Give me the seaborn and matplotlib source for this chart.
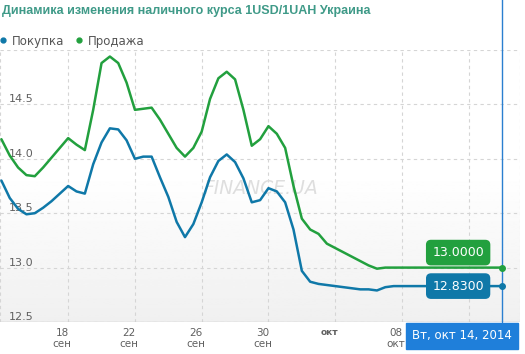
import numpy as np
import pandas as pd
import seaborn as sns
import matplotlib.pyplot as plt
import matplotlib.transforms as mtransforms
from matplotlib.lines import Line2D

# half-day readings, 14 Sep 2014 .. 14 Oct 2014
start_date = '2014-09-14'
end_date = '2014-10-14'

buy = [13.80, 13.64, 13.54, 13.49, 13.50, 13.55, 13.61, 13.68, 13.75, 13.70,
       13.68, 13.95, 14.15, 14.28, 14.27, 14.17, 14.00, 14.02, 14.02, 13.83,
       13.65, 13.42, 13.28, 13.40, 13.60, 13.83, 13.98, 14.04, 13.97, 13.82,
       13.60, 13.62, 13.73, 13.70, 13.60, 13.35, 12.97, 12.87, 12.85, 12.84,
       12.83, 12.82, 12.81, 12.80, 12.80, 12.79,
       12.82, 12.83, 12.83, 12.83, 12.83, 12.83, 12.83, 12.83, 12.83, 12.83,
       12.83, 12.83, 12.83, 12.83, 12.83]

sell = [14.18, 14.03, 13.92, 13.85, 13.84, 13.92, 14.01, 14.10, 14.19, 14.13,
        14.08, 14.45, 14.88, 14.94, 14.88, 14.70, 14.45, 14.46, 14.47, 14.36,
        14.23, 14.10, 14.02, 14.10, 14.25, 14.55, 14.74, 14.80, 14.73, 14.45,
        14.12, 14.18, 14.30, 14.23, 14.10, 13.75, 13.45, 13.35, 13.31, 13.22,
        13.18, 13.14, 13.10, 13.06, 13.02, 12.99,
        13.00, 13.00, 13.00, 13.00, 13.00, 13.00, 13.00, 13.00, 13.00, 13.00,
        13.00, 13.00, 13.00, 13.00, 13.00]

series_names = ['Покупка', 'Продажа']
tick_dates = ['2014-09-18', '2014-09-22', '2014-09-26', '2014-09-30',
              '2014-10-04', '2014-10-08', '2014-10-12']
# the label of 12 Oct is hidden under the date tooltip in the original
tick_labels = ['18\nсен', '22\nсен', '26\nсен', '30\nсен', 'окт', '08\nокт', '']
y_ticks = [12.5, 13.0, 13.5, 14.0, 14.5, 15.0]
y_labels = ['12.5', '13.0', '13.5', '14.0', '14.5', '']
last_labels = ['12.8300', '13.0000']
tooltip_text = 'Вт, окт 14, 2014'
title = 'Динамика изменения наличного курса 1USD/1UAH Украина'

BLUE = '#0f78a8'
GREEN = '#22a03e'
colors = [BLUE, GREEN]

dates = pd.date_range(start_date, end_date, freq='12h')
df = pd.DataFrame({
    'date': np.concatenate([dates, dates]),
    'value': buy + sell,
    'series': [series_names[0]] * len(buy) + [series_names[1]] * len(sell),
})

sns.set_style('white')
plt.rcParams['font.family'] = ['DejaVu Sans']

fig = plt.figure(figsize=(5.25, 3.54), dpi=100)
ax = fig.add_axes([0, 32 / 354, 520 / 525, 272 / 354])

# soft gray gradient towards the bottom of the plot area
grad = np.linspace(0, 1, 256)
grad = np.clip((grad - 0.45) / 0.55, 0, 1)[:, None]
ax.imshow(1 - 0.06 * grad, cmap='gray', vmin=0, vmax=1, aspect='auto',
          extent=[0, 1, 0, 1], transform=ax.transAxes, zorder=0)

sns.lineplot(data=df, x='date', y='value', hue='series', palette=colors,
             hue_order=series_names, linewidth=1.8, legend=False, ax=ax, zorder=3)

x0 = pd.Timestamp(start_date) - pd.Timedelta(hours=2)
x1 = pd.Timestamp(start_date) + pd.Timedelta(days=31.07)
ax.set_xlim(x0, x1)
ax.set_ylim(12.5, 15.0)
ax.set_xlabel('')
ax.set_ylabel('')

for s in ax.spines.values():
    s.set_visible(False)
ax.axhline(12.5, color='#c8c8c8', lw=1, zorder=2)

ax.set_yticks(y_ticks)
ax.set_yticklabels(y_labels)
ax.tick_params(axis='y', length=0, pad=-6, labelsize=8, labelcolor='#606060')
for lab in ax.get_yticklabels():
    lab.set_ha('left')
    lab.set_va('bottom')

ax.set_xticks(pd.to_datetime(tick_dates))
ax.set_xticklabels(tick_labels)
ax.tick_params(axis='x', length=3, color='#cccccc', labelsize=7.5,
               labelcolor='#606060', pad=1)
shift = mtransforms.ScaledTranslation(-6 / 100, 0, fig.dpi_scale_trans)
for lab in ax.get_xticklabels():
    lab.set_linespacing(1.15)
    lab.set_transform(lab.get_transform() + shift)
    if lab.get_text() == 'окт':
        lab.set_fontweight('bold')
        lab.set_fontsize(6.5)

ax.grid(True, color='#d5d5d5', linestyle=(0, (3, 3)), linewidth=0.8)
ax.axvline(x0, color='#d5d5d5', linestyle=(0, (3, 3)), linewidth=0.8)
ax.axvline(x1, color='#d5d5d5', linestyle=(0, (3, 3)), linewidth=0.8)

# watermark
ax.text(0.502, 0.49, 'FINANCE.UA', transform=ax.transAxes, ha='center', va='center',
        fontsize=13.5, style='italic', color='#dedede', zorder=1)

# cursor line on the last day
last = dates[-1]
ax.axvline(last, ymin=0, ymax=1.2, color='#2a7fd0', lw=1, clip_on=False, zorder=4)

# last value boxes
offsets = [(-44, 0), (-44, 15)]
for vals, col, lab, off in zip([buy, sell], colors, last_labels, offsets):
    ax.plot([last], [vals[-1]], 'o', color=col, ms=4, zorder=6)
    ax.annotate(lab, xy=(last, vals[-1]), xytext=off, textcoords='offset pixels',
                ha='center', va='center', fontsize=9, color='white', zorder=7,
                bbox=dict(boxstyle='round,pad=0.45,rounding_size=0.35', fc=col, ec=col))

# tooltip date box
fig.text(462 / 525, 1 - 336 / 354, tooltip_text, ha='center', va='center',
         fontsize=8.5, color='white', zorder=10,
         bbox=dict(boxstyle='square,pad=0.55', fc='#1f7fda', ec='#1f7fda'))

fig.text(0.004, 1 - 11 / 354, title, ha='left', va='center', fontsize=9,
         fontweight='bold', color='#3f9a88', family=['Liberation Sans', 'DejaVu Sans'])

handles = [Line2D([], [], marker='o', linestyle='', color=c, markersize=3.5) for c in colors]
fig.legend(handles, series_names, loc='center left', bbox_to_anchor=(0.0, 1 - 41 / 354),
           ncol=2, frameon=False, fontsize=8.5, handlelength=0.5, handletextpad=0.5,
           columnspacing=1.0, borderpad=0, borderaxespad=0, labelcolor='#555555')

fig.savefig('out.png', dpi=100)
